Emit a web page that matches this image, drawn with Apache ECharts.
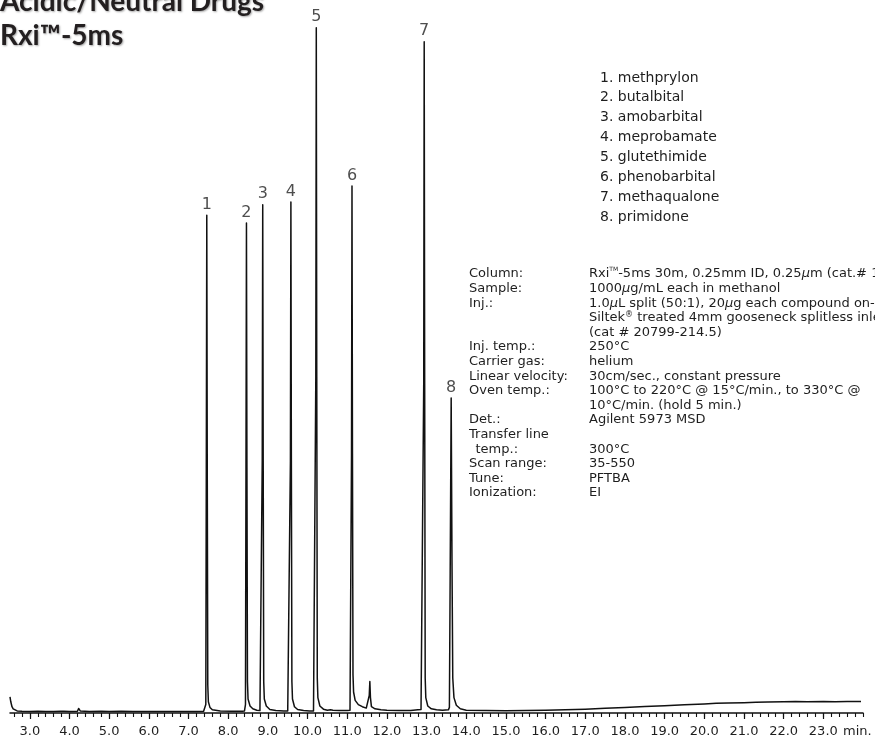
<!DOCTYPE html>
<html>
<head>
<meta charset="utf-8">
<script src="https://cdn.jsdelivr.net/npm/echarts@6.0.0/dist/echarts.min.js"></script>
<style>
  html, body { margin: 0; padding: 0; background: #ffffff; }
  #chart { width: 875px; height: 741px; }
</style>
</head>
<body>
<div id="chart"></div>
<script>
// ---------- data ----------
const titleLines = ['Acidic/Neutral Drugs', 'Rxi™-5ms'];

const compounds = ['methprylon', 'butalbital', 'amobarbital', 'meprobamate',
  'glutethimide', 'phenobarbital', 'methaqualone', 'primidone'];

// retention time (min) and apex height (% of full scale) of labelled peaks
const peakTimes   = [7.46, 8.46, 8.87, 9.58, 10.22, 11.12, 12.94, 13.62];
const peakHeights = [71.1, 70.0, 72.6, 73.0, 97.9, 75.3, 95.9, 45.0];
const peakNumbers = ['1', '2', '3', '4', '5', '6', '7', '8'];

// x-axis tick labels (min.)
const majorTicks = [3, 4, 5, 6, 7, 8, 9, 10, 11, 12, 13, 14, 15, 16, 17, 18, 19, 20, 21, 22, 23];
const axisUnit = 'min.';

// chromatogram trace: [time (min), detector response (% of full scale)]
const chromatogram = [
  [2.50, 2.3], [2.52, 1.6], [2.55, 0.9], [2.58, 0.6], [2.62, 0.4], [2.68, 0.3], [2.80, 0.25],
  [3.00, 0.2], [3.20, 0.25], [3.40, 0.2], [3.60, 0.22], [3.78, 0.25], [3.82, 0.45], [3.86, 0.25],
  [4.00, 0.22], [4.20, 0.25], [4.23, 0.65], [4.27, 0.3], [4.50, 0.2], [4.80, 0.25], [5.00, 0.2],
  [5.30, 0.25], [5.60, 0.2], [6.00, 0.22], [6.40, 0.2], [6.80, 0.22], [7.20, 0.2], [7.38, 0.25],
  // peak 1
  [7.41, 0.3], [7.435, 1.2], [7.448, 35], [7.46, 71.1], [7.472, 35], [7.485, 4], [7.50, 1.6],
  [7.54, 0.8], [7.60, 0.45], [7.80, 0.3], [8.10, 0.25], [8.35, 0.25],
  // peak 2
  [8.41, 0.3], [8.435, 1.2], [8.448, 35], [8.46, 70.0], [8.472, 35], [8.485, 4.5], [8.50, 2.0],
  [8.55, 1.0], [8.62, 0.6], [8.72, 0.4], [8.80, 0.35],
  // peak 3
  [8.835, 0.5], [8.858, 36], [8.87, 72.6], [8.882, 36], [8.895, 4.5], [8.91, 2.0], [8.96, 1.0],
  [9.05, 0.5], [9.20, 0.35], [9.40, 0.3], [9.50, 0.3],
  // peak 4
  [9.545, 0.5], [9.568, 36], [9.58, 73.0], [9.592, 36], [9.605, 4.5], [9.62, 2.0], [9.67, 0.9],
  [9.75, 0.5], [9.90, 0.35], [10.05, 0.3], [10.15, 0.3],
  // peak 5
  [10.185, 0.5], [10.208, 48], [10.22, 97.9], [10.232, 48], [10.245, 5], [10.26, 2.2], [10.31, 1.0],
  [10.40, 0.55], [10.50, 0.4], [10.58, 0.45], [10.61, 0.7], [10.64, 0.4], [10.80, 0.35], [11.00, 0.35],
  [11.07, 0.4],
  // peak 6
  [11.085, 0.6], [11.108, 37], [11.12, 75.3], [11.132, 37], [11.145, 5.5], [11.16, 3.0], [11.20, 1.8],
  [11.28, 1.2], [11.38, 0.9], [11.48, 0.7], [11.53, 0.8],
  // small unlabelled peak
  [11.555, 2.5], [11.57, 4.5], [11.585, 2.2], [11.61, 0.9], [11.70, 0.6], [11.85, 0.45], [12.00, 0.4],
  [12.30, 0.35], [12.60, 0.35], [12.78, 0.45], [12.82, 0.7], [12.86, 0.5], [12.90, 0.5],
  // peak 7
  [12.905, 0.6], [12.928, 47], [12.94, 95.9], [12.952, 47], [12.965, 5], [12.98, 2.2], [13.03, 1.0],
  [13.12, 0.6], [13.25, 0.45], [13.40, 0.4], [13.55, 0.45],
  // peak 8
  [13.575, 0.8], [13.595, 20], [13.62, 45.0], [13.64, 22], [13.66, 5], [13.69, 2.2], [13.75, 1.1],
  [13.85, 0.6], [14.00, 0.4],
  // baseline and late drift
  [14.50, 0.35], [15.00, 0.33], [15.50, 0.35], [16.00, 0.4], [16.50, 0.48], [17.00, 0.55],
  [17.50, 0.68], [18.00, 0.8], [18.50, 0.92], [19.00, 1.05], [19.50, 1.18], [20.00, 1.3],
  [20.30, 1.38], [20.60, 1.42], [21.00, 1.48], [21.30, 1.53], [21.60, 1.56], [22.00, 1.6],
  [22.30, 1.63], [22.60, 1.61], [23.00, 1.64], [23.30, 1.62], [23.60, 1.65], [23.95, 1.63]
];

const condLabels = ['Column:', 'Sample:', 'Inj.:', '', '', 'Inj. temp.:', 'Carrier gas:',
  'Linear velocity:', 'Oven temp.:', '', 'Det.:', 'Transfer line', '\u2002temp.:', 'Scan range:',
  'Tune:', 'Ionization:'];
const condValues = [
  'Rxi™-5ms 30m, 0.25mm ID, 0.25µm (cat.# 13423)',
  '1000µg/mL each in methanol',
  '1.0µL split (50:1), 20µg each compound on-column',
  'Siltek® treated 4mm gooseneck splitless inlet liner',
  '(cat # 20799-214.5)',
  '250°C',
  'helium',
  '30cm/sec., constant pressure',
  '100°C to 220°C @ 15°C/min., to 330°C @',
  '10°C/min. (hold 5 min.)',
  'Agilent 5973 MSD',
  '',
  '300°C',
  '35-550',
  'PFTBA',
  'EI'
];

// ---------- presentation ----------
const FONT = "'DejaVu Sans', 'Noto Sans', sans-serif";
const INK = '#1e1e1e';

const minorTicks = [];
for (let k = 26; k <= 240; k += 2) minorTicks.push(k / 10);

function richify(s) {
  return (s === '' ? ' ' : s)
    .replace(/™/g, '{tm|TM}')
    .replace(/®/g, '{sup|®}')
    .replace(/µ/g, '{mu|µ}');
}

const condRich = {
  tm: { fontFamily: FONT, fontSize: 6, verticalAlign: 'top', lineHeight: 14.6, color: INK },
  sup: { fontFamily: FONT, fontSize: 8, verticalAlign: 'top', lineHeight: 14.6, color: INK },
  mu: { fontFamily: FONT, fontSize: 13, fontStyle: 'italic', lineHeight: 14.6, color: INK }
};

const chart = echarts.init(document.getElementById('chart'), null, { renderer: 'canvas' });

chart.setOption({
  backgroundColor: '#ffffff',
  animation: false,
  title: [
    {
      text: compounds.map((c, i) => (i + 1) + '. ' + c).join('\n'),
      left: 600, top: 68, padding: 0,
      textStyle: { fontFamily: FONT, fontSize: 14, fontWeight: 'normal', lineHeight: 19.9, color: INK }
    },
    {
      text: condLabels.map(s => s === '' ? ' ' : s).join('\n'),
      left: 469, top: 266.7, padding: 0,
      textStyle: { fontFamily: FONT, fontSize: 13, fontWeight: 'normal', lineHeight: 14.6, color: INK }
    },
    {
      text: condValues.map(richify).join('\n'),
      left: 589, top: 266.7, padding: 0,
      textStyle: { fontFamily: FONT, fontSize: 13, fontWeight: 'normal', lineHeight: 14.6, color: INK, rich: condRich }
    }
  ],
  graphic: [
    {
      type: 'text', x: 0, y: 2, silent: true,
      style: {
        text: titleLines[0], fill: '#231f20', fontFamily: 'Lato', fontWeight: 'bold', fontSize: 28,
        verticalAlign: 'middle', align: 'left',
        textShadowColor: 'rgba(0,0,0,0.35)', textShadowBlur: 2, textShadowOffsetX: 1, textShadowOffsetY: 1
      }
    },
    {
      type: 'text', x: 0, y: 36, silent: true,
      style: {
        text: titleLines[1], fill: '#231f20', fontFamily: 'Lato', fontWeight: 'bold', fontSize: 28,
        verticalAlign: 'middle', align: 'left',
        textShadowColor: 'rgba(0,0,0,0.35)', textShadowBlur: 2, textShadowOffsetX: 1, textShadowOffsetY: 1
      }
    },
    {
      type: 'text', x: 843, y: 732, silent: true,
      style: { text: axisUnit, fill: INK, fontFamily: FONT, fontSize: 13, verticalAlign: 'middle', align: 'left' }
    }
  ],
  grid: { left: 10, right: 12, top: 13, bottom: 28, containLabel: false },
  xAxis: [
    {
      type: 'value', min: 2.5, max: 24,
      axisLine: { onZero: false, lineStyle: { color: '#111', width: 1.5 } },
      axisTick: { show: true, customValues: majorTicks, length: 6, inside: false, lineStyle: { color: '#111', width: 1.2 } },
      axisLabel: {
        customValues: majorTicks, margin: 12,
        formatter: v => Number(v).toFixed(1),
        fontFamily: FONT, fontSize: 13, color: INK
      },
      splitLine: { show: false }
    },
    {
      type: 'value', min: 2.5, max: 24, position: 'bottom',
      axisLine: { show: false, onZero: false },
      axisTick: { show: true, customValues: minorTicks, length: 4, inside: false, lineStyle: { color: '#111', width: 1.1 } },
      axisLabel: { show: false },
      splitLine: { show: false }
    }
  ],
  yAxis: { type: 'value', min: 0, max: 100, show: false, splitLine: { show: false } },
  series: [
    {
      type: 'line', xAxisIndex: 0, data: chromatogram, showSymbol: false, symbol: 'none',
      lineStyle: { color: '#111', width: 1.5, join: 'round' }, silent: true, z: 3
    },
    {
      type: 'scatter', xAxisIndex: 0,
      data: peakTimes.map((t, i) => ({ value: [t, peakHeights[i]], name: peakNumbers[i] })),
      symbolSize: 1, itemStyle: { color: 'rgba(0,0,0,0)' }, silent: true,
      label: {
        show: true, position: 'top', distance: 2, formatter: p => p.name,
        fontFamily: FONT, fontSize: 16, color: '#222'
      }
    }
  ]
});
</script>
</body>
</html>
